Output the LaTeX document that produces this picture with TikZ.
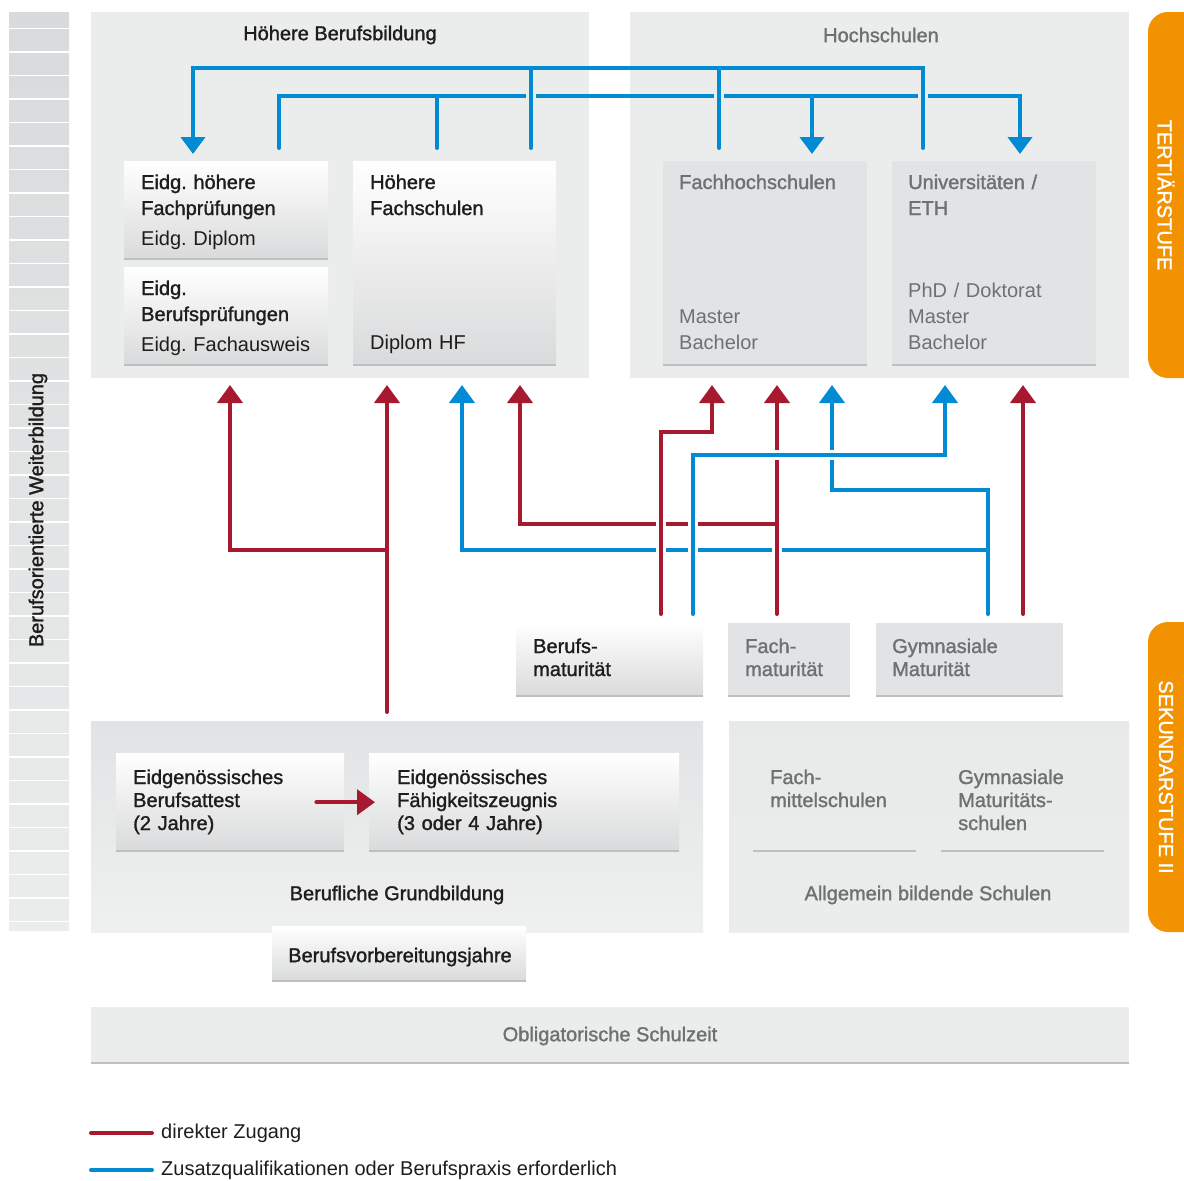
\documentclass[tikz,border=0pt]{standalone}
\usepackage{fontspec}
\setmainfont{Liberation Sans}
\newfontfamily\medfont[FakeBold=1.4]{Liberation Sans}
\usepackage{tikz}
\usetikzlibrary{arrows.meta,calc}
\usepackage{xcolor}
\frenchspacing
\definecolor{zred}{HTML}{A6192E}
\definecolor{zblue}{HTML}{008BD2}
\definecolor{zorange}{HTML}{F39200}
\definecolor{pgrey}{HTML}{EBECEC}
\definecolor{fgrey}{HTML}{E2E3E4}
\definecolor{bgrey}{HTML}{D9DADB}
\definecolor{lgrey}{HTML}{BEBFC1}
\definecolor{ink}{HTML}{1D1D1B}
\definecolor{inkgrey}{HTML}{6F7072}
\tikzstyle{panel}=[inner sep=0, anchor=north west, fill=pgrey]
\tikzstyle{underline}=[append after command={(\tikzlastnode.south west) edge[draw=lgrey, line width=2] (\tikzlastnode.south east)}]
\tikzstyle{gbox}=[inner sep=0, anchor=north west, top color=white, bottom color=bgrey, underline]
\tikzstyle{fbox}=[inner sep=0, anchor=north west, fill=fgrey, underline]
\tikzstyle{txt}=[inner sep=0, anchor=base west, align=left, text width=250, text=ink, font=\fontsize{20}{26}\selectfont]
\tikzstyle{head}=[txt, font=\medfont\fontsize{20}{26}\selectfont]
\tikzstyle{heads}=[txt, font=\medfont\fontsize{20}{23}\selectfont]
\tikzstyle{title}=[inner sep=0, text=ink, font=\medfont\fontsize{20}{24}\selectfont]
\tikzstyle{legend}=[inner sep=0, anchor=west, text=ink, font=\fontsize{20}{24}\selectfont]
\tikzstyle{tab}=[inner sep=0, text=white, rotate=-90, font=\medfont\fontsize{20}{24}\selectfont]
\tikzstyle{rline}=[draw=zred, line width=4, line cap=round]
\tikzstyle{bline}=[draw=zblue, line width=4, line cap=round]
\tikzstyle{up>}=[-{Triangle[width=25pt,length=18pt]}]
\tikzstyle{down>}=[-{Triangle[width=24pt,length=17pt]}]

\begin{document}
\begin{tikzpicture}[x=1pt,y=-1pt]
\useasboundingbox (0,0) rectangle (1184,1181);
\clip (0,0) rectangle (1184,1181);
\shade[top color=bgrey, bottom color=pgrey] (9,12) rectangle (69,930);
\foreach \i in {0,...,38} {
	\draw[white, line width=1.5] (9,{28.3+23.5*\i}) -- (69,{28.3+23.5*\i});
}
\node[title, rotate=90] (bw) at (38,510) {Berufsorientierte Weiterbildung};

\node[panel, minimum width=498, minimum height=366] (hb) at (91,12) {};
\node[panel, minimum width=499, minimum height=366] (hs) at (630,12) {};
\node[title] (hbt) at (340,35) {Höhere Berufsbildung};
\node[title, text=inkgrey] (hst) at (881,35) {Hochschulen};
\fill[zorange, rounded corners=20] (1148,12) rectangle (1220,378);
\node[tab] (t3) at (1166,195) {TERTIÄRSTUFE};
\fill[zorange, rounded corners=20] (1148,622) rectangle (1220,932);
\node[tab] (t2) at (1166,777) {SEKUNDARSTUFE II};

\node[gbox, minimum width=204, minimum height=98] (ehf) at (124,161) {};
\node[gbox, minimum width=204, minimum height=98] (ebp) at (124,267) {};
\node[gbox, minimum width=203, minimum height=204] (hfs) at (353,161) {};
\node[fbox, minimum width=204, minimum height=204] (fhs) at (663,161) {};
\node[fbox, minimum width=204, minimum height=204] (uni) at (892,161) {};
\node[head] (ehf1) at (141,189) {Eidg. höhere\\Fachprüfungen};
\node[txt] (ehf2) at (141,245) {Eidg. Diplom};
\node[head] (ebp1) at (141,295) {Eidg.\\Berufsprüfungen};
\node[txt] (ebp2) at (141,351) {Eidg. Fachausweis};
\node[head] (hfs1) at (370,189) {Höhere\\Fachschulen};
\node[txt] (hfs2) at (370,349) {Diplom HF};
\node[head, text=inkgrey] (fhs1) at (679,189) {Fachhochschulen};
\node[txt, text=inkgrey] (fhs2) at (679,323) {Master\\Bachelor};
\node[head, text=inkgrey] (uni1) at (908,189) {Universitäten /\\ETH};
\node[txt, text=inkgrey] (uni2) at (908,297) {PhD / Doktorat\\Master\\Bachelor};

\node[gbox, minimum width=187, minimum height=73] (bm) at (516,623) {};
\node[fbox, minimum width=122, minimum height=73] (fm) at (728,623) {};
\node[fbox, minimum width=187, minimum height=73] (gm) at (876,623) {};
\node[heads] (bmt) at (533,653) {Berufs-\\maturität};
\node[heads, text=inkgrey] (fmt) at (745,653) {Fach-\\maturität};
\node[heads, text=inkgrey] (gmt) at (892,653) {Gymnasiale\\Maturität};

\node[panel, top color=fgrey, bottom color=pgrey!80!white, minimum width=612, minimum height=211] (gbp) at (91,721) {};
\node[panel, top color=pgrey!85!bgrey, bottom color=pgrey, minimum width=400, minimum height=211] (abs) at (729,721) {};
\node[gbox, minimum width=228, minimum height=98] (eba) at (116,753) {};
\node[gbox, minimum width=310, minimum height=98] (efz) at (369,753) {};
\node[heads] (ebat) at (133,784) {Eidgenössisches\\Berufsattest\\(2 Jahre)};
\node[heads] (efzt) at (397,784) {Eidgenössisches\\Fähigkeitszeugnis\\(3 oder 4 Jahre)};
\node[title] (gbt) at (397,895) {Berufliche Grundbildung};
\node[gbox, minimum width=254, minimum height=55] (bvj) at (272,926) {};
\node[title] (bvjt) at (400,957) {Berufsvorbereitungsjahre};
\node[heads, text=inkgrey] (fms) at (770,784) {Fach-\\mittelschulen};
\node[heads, text=inkgrey] (gms) at (958,784) {Gymnasiale\\Maturitäts-\\schulen};
\draw[lgrey, line width=2] (753,851) -- (916,851);
\draw[lgrey, line width=2] (941,851) -- (1104,851);
\node[title, text=inkgrey] (abt) at (928,895) {Allgemein bildende Schulen};
\node[fbox, fill=pgrey, minimum width=1038, minimum height=56] (osz) at (91,1007) {};
\node[title, text=inkgrey] (oszt) at (610,1036) {Obligatorische Schulzeit};

\draw[rline, up>] ([xshift=-28]eba.east) -- ([xshift=6]efz.west);

% Hochschulen und hoehere Berufsbildung
\coordinate (barA) at (0,68);
\coordinate (barB) at (0,96);
\foreach \n/\x in {a/193,b/812,c/1020} {
	\coordinate (d\n) at (\x,154);
}
\foreach \n/\x in {a/279,b/437,c/531,d/719,e/923} {
	\coordinate (s\n) at (\x,148);
}
\draw[bline, down>] (sa) |- (dc |- barB) -- (dc);
\draw[bline] (sb) -- (sb |- barB);
\draw[bline, down>] (db |- barB) -- (db);
\foreach \n in {c,d,e} {
	\fill[pgrey] ($(s\n |- barB)+(-5,-3)$) rectangle ($(s\n |- barB)+(5,3)$);
}
\draw[bline, down>] (se) |- (da |- barA) -- (da);
\draw[bline] (sc) -- (sc |- barA);
\draw[bline] (sd) -- (sd |- barA);

% Sekundarstufe II nach Tertiaerstufe
\foreach \n/\x in {a/230,b/387,c/462,d/520,e/712,f/777,g/832,h/945,i/1023} {
	\coordinate (u\n) at (\x,385);
}
\foreach \n/\y in {A/432,B/455,C/490,D/524,E/550} {
	\coordinate (l\n) at (0,\y);
}
\coordinate (gb) at (387,712);
\coordinate (bm1) at (661,614);
\coordinate (bm2) at (693,614);
\coordinate (fm1) at (777,614);
\coordinate (gm1) at (988,614);
\coordinate (gm2) at (1023,614);
\draw[bline, up>] (gm1) |- (ug |- lC) -- (ug);
\draw[bline, up>] (gm1 |- lE) -| (uc);
\draw[rline, up>] (fm1 |- lD) -| (ud);
\foreach \x/\y in {661/524,693/524,661/550,693/550,777/550} {
	\fill[white] (\x-5,\y-3) rectangle (\x+5,\y+3);
}
\draw[rline, up>] (fm1) -- (uf);
\foreach \x in {777,832} {
	\fill[white] (\x-3,450) rectangle (\x+3,460);
}
\draw[rline, up>] (bm1) |- (ue |- lA) -- (ue);
\draw[bline, up>] (bm2) |- (uh |- lB) -- (uh);
\draw[rline, up>] (gm2) -- (ui);
\draw[rline, up>] (gb) -- (ub);
\draw[rline, up>] (gb |- lE) -| (ua);

\node[legend] (lgr) at (161,1133) {direkter Zugang};
\node[legend] (lgb) at (161,1170) {Zusatzqualifikationen oder Berufspraxis erforderlich};
\draw[rline] ([xshift=-9]lgr.west) -- ++(-61,0);
\draw[bline] ([xshift=-9]lgb.west) -- ++(-61,0);
\end{tikzpicture}
\end{document}
